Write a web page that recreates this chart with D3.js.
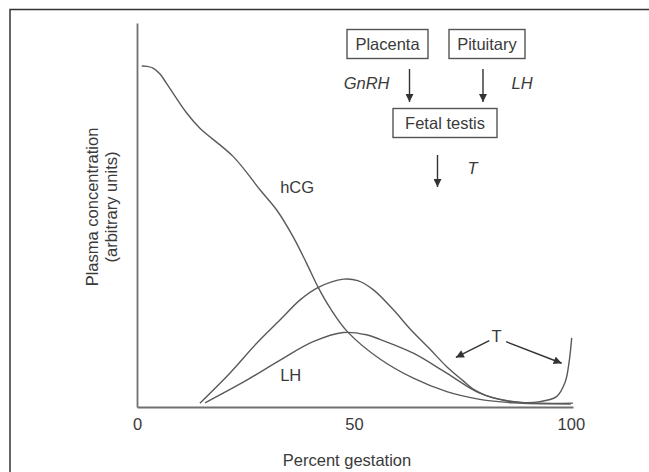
<!DOCTYPE html>
<html>
<head>
<meta charset="utf-8">
<script src="https://cdn.jsdelivr.net/npm/d3@7"></script>
<style>
  body { margin: 0; background: #fff; }
  text { font-family: "Liberation Sans", Arial, sans-serif; fill: #3a3a3a; }
</style>
</head>
<body>
<div id="chart"></div>
<script>
// Curves: [percent gestation, plasma concentration (arbitrary)]
var hcg = [
  [1.1, 88.8], [2.3, 88.7], [3.8, 88.2], [5.3, 86.7], [6.8, 84.3], [11.5, 76.5],
  [14.5, 72.6], [22.2, 65.2], [28.4, 56.5], [32.2, 51.3], [36.0, 44.3], [39.1, 37.4],
  [41.8, 31.1], [44.5, 25.8], [48.6, 19.5], [56.0, 12.5], [63.7, 7.5], [71.4, 4.0],
  [79.0, 2.0], [86.7, 1.1], [100, 0.8]
];
var testosterone = [
  [14.5, 1.0], [21.4, 8.8], [27.6, 16.6], [33.0, 22.7], [37.6, 27.9], [41.7, 31.1],
  [47.6, 33.3], [50.9, 32.9], [54.5, 30.5], [59.1, 25.3], [62.9, 20.4], [67.5, 15.1],
  [71.4, 10.5], [75.2, 6.8], [77.4, 4.7], [80.2, 3.1], [83.0, 2.1], [88.3, 1.2],
  [92.9, 1.4], [96.7, 2.7], [98.7, 6.5], [99.6, 11.7], [100.2, 18.0]
];
var lh = [
  [15.7, 1.1], [25.3, 7.0], [33.0, 12.2], [40.6, 17.0], [47.6, 19.4], [52.9, 18.8],
  [56.0, 17.6], [63.7, 14.0], [71.4, 8.8], [79.0, 3.6], [86.7, 1.4], [100.5, 1.0]
];
var xTicks = [0, 50, 100];

// Curve labels and the "T" pointer arrows, in data units
var curveLabels = [
  {text: "hCG", x: 33.0, y: 55.7},
  {text: "LH", x: 33.0, y: 6.8},
  {text: "T", x: 81.7, y: 17.0}
];
var tArrows = [
  {x1: 81.2, y1: 17.3, x2: 73.5, y2: 12.9},
  {x1: 85.1, y1: 17.0, x2: 97.9, y2: 11.4}
];

var width = 649, height = 472;

var svg = d3.select("#chart")
  .append("svg")
    .attr("width", width)
    .attr("height", height);

// defs for arrow heads
var defs = svg.append("defs");
defs.append("marker")
    .attr("id", "head")
    .attr("viewBox", "0 0 10 10")
    .attr("refX", 10).attr("refY", 5)
    .attr("markerUnits", "userSpaceOnUse")
    .attr("markerWidth", 9).attr("markerHeight", 8)
    .attr("orient", "auto")
  .append("path")
    .attr("d", "M0,0L10,5L0,10z")
    .attr("fill", "#333");

// outer frame (runs off the right and bottom of the picture)
svg.append("rect")
    .attr("x", 10).attr("y", 9.5)
    .attr("width", 700).attr("height", 520)
    .attr("fill", "none")
    .attr("stroke", "#333")
    .attr("stroke-width", 1.5);

// scales
var x = d3.scaleLinear().domain([0, 100.5]).range([137, 573]);
var y = d3.scaleLinear().domain([0, 100]).range([407, 23]);

// axes
var xAxis = svg.append("g")
    .attr("transform", "translate(0," + y(0) + ")")
    .call(d3.axisBottom(x).tickValues(xTicks).tickSize(0).tickSizeOuter(0).tickPadding(11));
xAxis.select(".domain").attr("stroke", "#707070").attr("stroke-width", 1.8);
xAxis.selectAll("text")
    .style("font-size", "16.5px")
    .style("font-family", "'Liberation Sans', Arial, sans-serif")
    .attr("fill", "#3a3a3a");

var yAxis = svg.append("g")
    .attr("transform", "translate(" + x(0) + ",0)")
    .call(d3.axisLeft(y).tickValues([]).tickSizeOuter(0));
yAxis.select(".domain").attr("stroke", "#707070").attr("stroke-width", 1.8);

// axis titles
svg.append("text")
    .attr("x", 347).attr("y", 466)
    .attr("text-anchor", "middle")
    .style("font-size", "16.5px")
    .text("Percent gestation");

var yTitle = svg.append("text")
    .attr("transform", "translate(98,207) rotate(-90)")
    .attr("text-anchor", "middle")
    .style("font-size", "16.5px");
yTitle.append("tspan").attr("x", 0).attr("y", 0).text("Plasma concentration");
yTitle.append("tspan").attr("x", 0).attr("y", 19).text("(arbitrary units)");

// curves
var line = d3.line()
    .x(function(d) { return x(d[0]); })
    .y(function(d) { return y(d[1]); })
    .curve(d3.curveCatmullRom.alpha(0.5));

[hcg, testosterone, lh].forEach(function(series) {
  svg.append("path")
      .datum(series)
      .attr("d", line)
      .attr("fill", "none")
      .attr("stroke", "#5a5a5a")
      .attr("stroke-width", 1.4);
});

// curve labels
svg.selectAll(".curve-label")
  .data(curveLabels)
  .enter()
  .append("text")
    .attr("class", "curve-label")
    .attr("x", function(d) { return x(d.x); })
    .attr("y", function(d) { return y(d.y); })
    .style("font-size", "16.5px")
    .text(function(d) { return d.text; });

svg.selectAll(".t-arrow")
  .data(tArrows)
  .enter()
  .append("line")
    .attr("class", "t-arrow")
    .attr("x1", function(d) { return x(d.x1); })
    .attr("y1", function(d) { return y(d.y1); })
    .attr("x2", function(d) { return x(d.x2); })
    .attr("y2", function(d) { return y(d.y2); })
    .attr("stroke", "#333")
    .attr("stroke-width", 1.4)
    .attr("marker-end", "url(#head)");

// flow diagram (schematic, top right)
var boxes = [
  {text: "Placenta", x0: 347, y0: 29.5, x1: 428, y1: 58.5},
  {text: "Pituitary", x0: 449, y0: 29.5, x1: 525, y1: 58.5},
  {text: "Fetal testis", x0: 393, y0: 108.5, x1: 497, y1: 137.5}
];
var diagram = svg.append("g");
boxes.forEach(function(b) {
  diagram.append("rect")
      .attr("x", b.x0).attr("y", b.y0)
      .attr("width", b.x1 - b.x0).attr("height", b.y1 - b.y0)
      .attr("fill", "none")
      .attr("stroke", "#555")
      .attr("stroke-width", 1.4);
  diagram.append("text")
      .attr("x", (b.x0 + b.x1) / 2)
      .attr("y", b.y0 + 20.5)
      .attr("text-anchor", "middle")
      .style("font-size", "16.5px")
      .text(b.text);
});

var flowArrows = [
  {x: 409.5, y0: 69, y1: 102},
  {x: 483, y0: 69, y1: 102},
  {x: 437.5, y0: 155, y1: 187}
];
flowArrows.forEach(function(a) {
  diagram.append("line")
      .attr("x1", a.x).attr("x2", a.x)
      .attr("y1", a.y0).attr("y2", a.y1)
      .attr("stroke", "#333")
      .attr("stroke-width", 1.4)
      .attr("marker-end", "url(#head)");
});

var flowLabels = [
  {text: "GnRH", x: 389.5, y: 88.5, anchor: "end"},
  {text: "LH", x: 511.5, y: 88.5, anchor: "start"},
  {text: "T", x: 467.5, y: 173.5, anchor: "start"}
];
flowLabels.forEach(function(l) {
  diagram.append("text")
      .attr("x", l.x).attr("y", l.y)
      .attr("text-anchor", l.anchor)
      .style("font-size", "16.5px")
      .style("font-style", "italic")
      .text(l.text);
});
</script>
</body>
</html>
